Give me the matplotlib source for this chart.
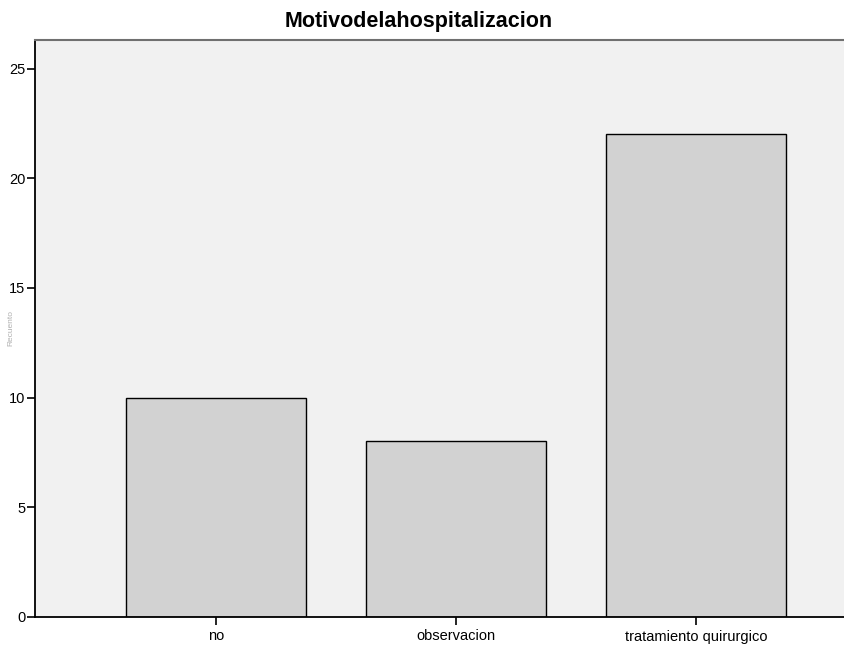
import matplotlib.pyplot as plt

categories = ["no", "observacion", "tratamiento quirurgico"]
counts = [10, 8, 22]
yticks = [0, 5, 10, 15, 20, 25]

plt.rcParams['font.family'] = ['Liberation Sans', 'DejaVu Sans']

fig = plt.figure(figsize=(8.45, 6.46), dpi=100)
fig.patch.set_facecolor('white')

# plot area runs off the right side of the picture, like the original
ax = fig.add_axes([35 / 845, 1 - 617 / 646, (877 - 35) / 845, (617 - 40) / 646])
ax.set_facecolor('#f1f1f1')

x = range(len(categories))
ax.bar(x, counts, width=0.75, color='#d2d2d2', edgecolor='black', linewidth=1.0)

ax.set_xlim(-0.754, 2.754)
ax.set_ylim(0, 26.3)
ax.set_xticks(list(x))
ax.set_xticklabels(categories, fontsize=10.5)
ax.set_yticks(yticks)
ax.set_yticklabels([str(v) for v in yticks], fontsize=10.5)

ax.tick_params(axis='y', direction='out', length=6, width=1.2, pad=1)
ax.tick_params(axis='x', direction='out', length=6, width=1.2, pad=3)

ax.spines['left'].set_linewidth(1.3)
ax.spines['bottom'].set_linewidth(1.3)
ax.spines['top'].set_color('#707070')
ax.spines['top'].set_linewidth(1.5)
ax.spines['right'].set_visible(False)

fig.text(419 / 845, 1 - 21 / 646, "Motivodelahospitalizacion", ha='center', va='center',
         fontsize=15.5, fontweight='bold')
fig.text(11 / 845, 1 - 328 / 646, "Recuento", rotation=90, ha='center', va='center',
         fontsize=6, color='#b0b0b0')

fig.savefig('out.png', dpi=100)
